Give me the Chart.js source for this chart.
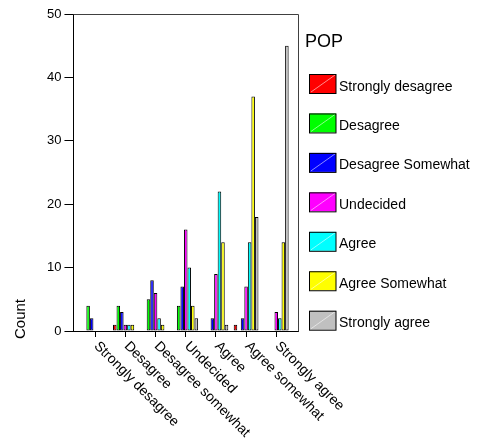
<!DOCTYPE html>
<html>
<head>
<meta charset="utf-8">
<script src="https://cdn.jsdelivr.net/npm/chart.js@4/dist/chart.umd.min.js"></script>
<style>
  body { margin: 0; background: #fff; }
  canvas { display: block; }
</style>
</head>
<body>
<canvas id="popChart" width="478" height="444"></canvas>
<script>
const categories = ['Strongly desagree', 'Desagree', 'Desagree somewhat', 'Undecided', 'Agree', 'Agree somewhat', 'Strongly agree'];
const popGroups = ['Strongly desagree', 'Desagree', 'Desagree Somewhat', 'Undecided', 'Agree', 'Agree Somewhat', 'Strongly agree'];
const popColors = ['#ff0000', '#00ff00', '#0000ff', '#ff00ff', '#00ffff', '#ffff00', '#c0c0c0'];

// counts per category for each POP group
const stronglyDesagree = [0, 1, 0, 0, 0, 1, 0];
const desagree = [4, 4, 5, 4, 0, 0, 0];
const desagreeSomewhat = [2, 3, 8, 7, 2, 2, 0];
const undecided = [0, 1, 6, 16, 9, 7, 3];
const agree = [0, 1, 2, 10, 22, 14, 2];
const agreeSomewhat = [0, 1, 1, 4, 14, 37, 14];
const stronglyAgree = [0, 0, 0, 2, 1, 18, 45];
const yTicks = [0, 10, 20, 30, 40, 50];

const seriesValues = [stronglyDesagree, desagree, desagreeSomewhat, undecided, agree, agreeSomewhat, stronglyAgree];
const FONT = '"Liberation Sans", Arial, sans-serif';

// frame, rotated category labels, legend and axis title
const decorations = {
    id: 'decorations',
    afterDraw(chart) {
        const { ctx, chartArea: area } = chart;
        const xScale = chart.scales.x;

        ctx.save();
        // grey top/right frame
        ctx.strokeStyle = '#404040';
        ctx.lineWidth = 1;
        ctx.beginPath();
        ctx.moveTo(Math.round(area.left) + 0.5, Math.round(area.top) + 0.5);
        ctx.lineTo(Math.round(area.right) + 0.5, Math.round(area.top) + 0.5);
        ctx.lineTo(Math.round(area.right) + 0.5, Math.round(area.bottom) + 0.5);
        ctx.stroke();

        // category labels, slanted down to the right
        ctx.fillStyle = '#000';
        ctx.font = '14px ' + FONT;
        ctx.textAlign = 'left';
        ctx.textBaseline = 'top';
        categories.forEach((label, i) => {
            const px = xScale.getPixelForValue(i);
            ctx.save();
            ctx.translate(px + 6, area.bottom + 8);
            ctx.rotate(Math.PI / 4);
            ctx.fillText(label, 0, 0);
            ctx.restore();
        });

        // y axis title
        ctx.save();
        ctx.translate(25, 339);
        ctx.rotate(-Math.PI / 2);
        ctx.font = '15px ' + FONT;
        ctx.textBaseline = 'alphabetic';
        ctx.fillText('Count', 0, 0);
        ctx.restore();

        // legend
        ctx.font = '18px ' + FONT;
        ctx.textBaseline = 'alphabetic';
        ctx.fillText('POP', 305, 46.5);
        ctx.font = '14px ' + FONT;
        chart.data.datasets.forEach((ds, i) => {
            const y = 74 + i * 39.45;
            ctx.fillStyle = ds.backgroundColor;
            ctx.fillRect(309.5, y, 26.5, 19);
            ctx.strokeStyle = 'rgba(255,255,255,0.55)';
            ctx.beginPath();
            ctx.moveTo(311, y + 18);
            ctx.lineTo(335, y + 1);
            ctx.stroke();
            ctx.strokeStyle = '#000';
            ctx.strokeRect(309.5, y + 0.5, 26.5, 19);
            ctx.fillStyle = '#000';
            ctx.fillText(ds.label, 339, y + 16.5);
        });
        ctx.restore();
    }
};

new Chart(document.getElementById('popChart'), {
    type: 'bar',
    data: {
        datasets: seriesValues.map((values, s) => ({
            label: popGroups[s],
            data: values.map((v, i) => ({ x: i, y: v })),
            backgroundColor: popColors[s],
            borderColor: '#000',
            borderWidth: 1,
            borderSkipped: false,
            categoryPercentage: 0.82,
            barPercentage: 1.0
        }))
    },
    options: {
        responsive: false,
        animation: false,
        layout: { padding: { left: 44, right: 180, top: 14, bottom: 107 } },
        plugins: {
            legend: { display: false },
            tooltip: { enabled: false }
        },
        scales: {
            x: {
                type: 'linear',
                offset: false,
                min: -0.72,
                max: 6.72,
                afterBuildTicks: (scale) => { scale.ticks = categories.map((c, i) => ({ value: i })); },
                ticks: { display: false },
                grid: { offset: false, drawOnChartArea: false, color: '#000', tickLength: 6 },
                border: { color: '#000', width: 1 }
            },
            y: {
                min: 0,
                max: 50,
                afterBuildTicks: (scale) => { scale.ticks = yTicks.map(v => ({ value: v })); },
                ticks: { color: '#000', font: { family: FONT, size: 13 }, padding: 3 },
                grid: { drawOnChartArea: false, color: '#000', tickLength: 9 },
                border: { color: '#000', width: 1 }
            }
        }
    },
    plugins: [decorations]
});
</script>
</body>
</html>
